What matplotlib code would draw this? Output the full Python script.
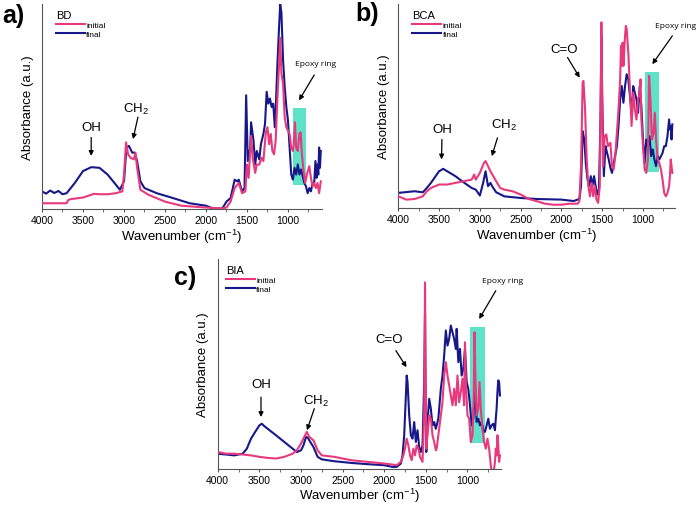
import matplotlib
matplotlib.use('Agg')
import matplotlib.pyplot as plt
from matplotlib.patches import Rectangle
from matplotlib.ticker import MultipleLocator

plt.rcParams['font.family'] = ['Liberation Sans', 'DejaVu Sans']
plt.rcParams['mathtext.fontset'] = 'custom'
plt.rcParams['mathtext.rm'] = 'Liberation Sans'
plt.rcParams['mathtext.it'] = 'Liberation Sans:italic'
plt.rcParams['mathtext.default'] = 'regular'

PINK = '#e8397d'
NAVY = '#16188a'
TEAL = '#5ee3c8'

# ---- panel a) BD ----
bd_final_wn = [4000, 3950, 3900, 3850, 3800, 3750, 3700, 3600, 3500, 3400, 3300, 3200, 3100, 3050, 3000,
               2970, 2940, 2900, 2870, 2840, 2800, 2750, 2600, 2400, 2200, 2000, 1900, 1800, 1750, 1700,
               1650, 1620, 1600, 1560, 1530, 1510, 1490, 1460, 1450, 1420, 1400, 1380, 1350, 1330, 1300,
               1280, 1260, 1240, 1220, 1200, 1180, 1160, 1150, 1130, 1110, 1095, 1080, 1060, 1040, 1020,
               1000, 980, 960, 940, 920, 900, 880, 860, 840, 820, 800, 780, 760, 740, 720,
               700, 680, 665, 650, 640, 630, 620, 610, 600]
bd_final = [8.6, 7.5, 9.0, 7.8, 8.8, 7.2, 7.7, 12.7, 18.5, 20.4, 20.1, 16.8, 11.9, 9.4, 13.5,
            30.0, 30.8, 27.5, 27.5, 23.4, 13.5, 10.2, 7.7, 5.3, 2.8, 1.6, 0.0, 0.3, 3.6, 5.3,
            14.3, 13.5, 14.3, 8.6, 10.2, 55.5, 23.4, 30.0, 42.3, 33.3, 21.7, 28.3, 24.2, 31.6, 36.6,
            41.5, 57.2, 51.4, 53.9, 49.8, 51.4, 39.9, 48.1, 69.5, 87.6, 100.0, 95.9, 72.8, 59.6, 49.8,
            43.2, 30.0, 16.8, 14.3, 20.1, 16.8, 21.7, 16.8, 19.3, 16.0, 12.7, 11.0, 7.7, 10.2, 8.6,
            12.7, 12.7, 23.4, 15.2, 21.7, 16.8, 30.0, 20.1, 28.3]

bd_init_wn = [4000, 3700, 3680, 3650, 3500, 3400, 3370, 3300, 3200, 3100, 3020, 3000, 2975, 2950, 2920,
              2880, 2860, 2840, 2800, 2700, 2500, 2300, 2000, 1800, 1750, 1700, 1650, 1600, 1560, 1520,
              1500, 1480, 1450, 1430, 1400, 1380, 1350, 1320, 1300, 1270, 1250, 1230, 1210, 1190, 1170,
              1150, 1130, 1110, 1095, 1080, 1060, 1040, 1020, 1000, 980, 960, 940, 930, 915, 900,
              880, 860, 845, 830, 810, 790, 770, 740, 720, 700, 680, 660, 640, 620, 600]
bd_init = [2.8, 2.8, 4.4, 4.8, 5.6, 6.9, 7.4, 7.2, 7.2, 7.7, 8.6, 16.8, 32.5, 26.7, 25.0,
           24.2, 27.5, 20.1, 9.4, 6.9, 3.6, 1.6, 0.7, 0.3, 0.7, 3.6, 10.2, 12.7, 7.7, 8.6,
           21.7, 15.2, 35.7, 25.0, 17.6, 21.7, 21.7, 25.0, 23.4, 37.4, 39.9, 31.6, 36.6, 28.3, 26.7,
           33.3, 53.0, 69.5, 83.5, 66.2, 61.3, 44.8, 39.9, 38.2, 36.6, 30.0, 28.3, 31.6, 42.3, 30.0,
           28.3, 36.6, 37.4, 26.7, 18.5, 12.7, 16.8, 20.9, 15.2, 11.0, 12.7, 10.2, 12.7, 7.7, 13.5]

# ---- panel b) BCA ----
bca_final_wn = [4000, 3800, 3700, 3650, 3600, 3500, 3450, 3400, 3300, 3200, 3100, 3050, 3000, 2960, 2930,
                2900, 2870, 2850, 2800, 2700, 2500, 2300, 2000, 1850, 1780, 1760, 1740, 1720, 1700, 1680,
                1660, 1640, 1620, 1600, 1580, 1560, 1540, 1520, 1510, 1500, 1480, 1460, 1440, 1420, 1400,
                1380, 1350, 1320, 1300, 1280, 1260, 1240, 1220, 1200, 1180, 1160, 1140, 1120, 1100, 1080,
                1060, 1040, 1020, 1000, 980, 960, 940, 920, 900, 880, 860, 840, 820, 800, 780,
                760, 740, 720, 700, 680, 670, 660, 650, 640]
bca_final = [7.4, 8.2, 7.7, 9.8, 12.3, 18.0, 19.2, 18.0, 15.6, 12.6, 9.8, 9.0, 6.1, 12.3, 18.0,
             10.7, 12.3, 10.7, 7.7, 5.7, 4.9, 4.4, 4.1, 3.4, 4.4, 10.7, 37.7, 33.6, 21.3, 13.9,
             10.7, 15.6, 10.7, 15.6, 10.7, 6.6, 9.0, 45.1, 84.4, 53.3, 15.6, 30.3, 27.0, 23.8, 19.7,
             17.2, 23.8, 30.3, 40.2, 53.3, 59.8, 51.6, 59.8, 65.6, 63.1, 54.9, 46.7, 59.8, 56.6, 53.3,
             46.7, 59.8, 50.0, 33.6, 22.1, 33.6, 30.3, 35.2, 25.4, 28.7, 23.8, 20.5, 25.4, 23.8, 25.4,
             27.0, 30.3, 30.3, 35.2, 43.4, 38.5, 40.2, 33.6, 41.0]

bca_init_wn = [4000, 3900, 3800, 3700, 3650, 3600, 3500, 3400, 3300, 3200, 3100, 3070, 3050, 3000, 2950,
               2930, 2900, 2870, 2800, 2750, 2700, 2600, 2500, 2400, 2300, 2200, 2100, 2000, 1900, 1800,
               1780, 1760, 1740, 1730, 1710, 1690, 1670, 1650, 1630, 1610, 1590, 1570, 1550, 1530, 1515,
               1510, 1505, 1490, 1470, 1450, 1430, 1400, 1380, 1360, 1340, 1320, 1300, 1280, 1270, 1260,
               1250, 1240, 1220, 1210, 1200, 1180, 1160, 1140, 1120, 1100, 1080, 1060, 1040, 1030, 1020,
               1000, 980, 960, 940, 925, 910, 890, 870, 855, 840, 820, 800, 780, 760, 740,
               720, 700, 680, 670, 660, 650, 640]
bca_init = [5.7, 4.1, 4.4, 5.7, 8.2, 9.8, 11.5, 11.5, 12.3, 13.1, 13.9, 16.4, 13.9, 17.2, 22.1,
            23.0, 20.5, 18.0, 13.1, 9.8, 9.0, 8.2, 6.6, 4.4, 3.3, 2.1, 1.6, 1.6, 2.1, 2.1,
            3.3, 20.5, 61.5, 62.3, 48.4, 23.8, 10.7, 5.7, 12.3, 5.7, 10.7, 4.1, 2.5, 10.7, 69.7,
            91.0, 69.7, 20.5, 35.2, 36.1, 30.3, 32.0, 20.5, 18.9, 25.4, 36.9, 48.4, 63.1, 79.5, 69.7,
            81.1, 69.7, 84.4, 89.3, 87.7, 76.2, 58.2, 40.2, 56.6, 48.4, 43.4, 53.3, 56.6, 63.1, 43.4,
            30.3, 18.9, 17.2, 23.8, 64.8, 53.3, 33.6, 36.9, 46.7, 33.6, 23.8, 22.1, 18.9, 13.9, 7.4,
            5.7, 7.4, 10.7, 15.6, 23.8, 20.5, 17.2]

# ---- panel c) BIA ----
bia_final_wn = [4000, 3900, 3800, 3700, 3650, 3600, 3550, 3500, 3470, 3450, 3400, 3300, 3200, 3100, 3050,
                3000, 2970, 2940, 2920, 2900, 2850, 2800, 2750, 2600, 2400, 2200, 2000, 1900, 1850, 1800,
                1780, 1760, 1740, 1730, 1720, 1700, 1680, 1660, 1640, 1620, 1600, 1580, 1560, 1540, 1520,
                1510, 1505, 1495, 1480, 1460, 1440, 1420, 1400, 1380, 1350, 1320, 1300, 1280, 1260, 1240,
                1220, 1200, 1180, 1160, 1140, 1130, 1110, 1090, 1070, 1050, 1030, 1010, 990, 970, 950,
                930, 910, 890, 870, 850, 830, 810, 790, 770, 750, 730, 710, 690, 670, 660,
                650, 640, 630, 620, 610]
bia_final = [7.1, 6.7, 6.3, 7.1, 9.5, 14.3, 17.5, 20.6, 21.4, 20.6, 19.0, 15.9, 12.7, 9.5, 7.9,
             8.7, 11.1, 15.1, 14.8, 13.5, 10.3, 5.6, 4.4, 3.5, 2.7, 2.1, 1.6, 0.8, 0.8, 2.4,
             6.3, 15.9, 34.9, 44.4, 41.3, 25.4, 15.9, 14.3, 22.2, 12.7, 18.3, 10.3, 7.9, 11.1, 41.3,
             73.8, 41.3, 7.9, 22.2, 33.3, 28.6, 20.6, 22.2, 19.0, 23.8, 38.1, 44.4, 54.0, 65.9, 58.7,
             61.9, 68.3, 65.1, 61.9, 57.1, 66.7, 50.8, 57.1, 44.4, 47.6, 57.1, 41.3, 38.1, 30.2, 20.6,
             23.8, 38.1, 22.2, 23.8, 20.6, 22.2, 18.3, 17.5, 20.6, 23.8, 19.0, 20.6, 21.4, 18.3, 23.8,
             28.6, 36.5, 42.1, 41.3, 34.9]

bia_init_wn = [4000, 3900, 3800, 3700, 3600, 3500, 3400, 3300, 3200, 3100, 3050, 3000, 2950, 2930, 2900,
               2850, 2800, 2750, 2600, 2400, 2200, 2000, 1900, 1850, 1800, 1770, 1750, 1730, 1710, 1690,
               1670, 1650, 1630, 1610, 1590, 1570, 1540, 1520, 1510, 1505, 1495, 1480, 1460, 1440, 1420,
               1400, 1380, 1370, 1350, 1320, 1300, 1280, 1260, 1240, 1220, 1200, 1180, 1160, 1140, 1120,
               1100, 1080, 1060, 1040, 1030, 1020, 1000, 980, 960, 940, 925, 915, 905, 890, 870,
               855, 840, 820, 800, 780, 760, 740, 720, 710, 690, 670, 660, 650, 640, 630,
               620, 610]
bia_init = [7.9, 7.1, 7.1, 6.7, 6.3, 5.6, 5.1, 4.8, 5.6, 7.1, 8.7, 11.9, 15.9, 17.5, 15.1,
            13.5, 8.7, 6.3, 5.6, 4.0, 3.2, 2.4, 1.9, 1.6, 3.2, 6.3, 9.5, 14.3, 11.1, 6.3,
            4.0, 9.5, 6.3, 11.1, 9.5, 5.6, 3.2, 25.4, 88.9, 57.1, 9.5, 15.9, 25.4, 23.8, 15.9,
            12.7, 8.7, 9.5, 15.9, 25.4, 31.7, 44.4, 50.8, 44.4, 39.7, 34.9, 30.2, 38.1, 30.2, 44.4,
            31.7, 36.5, 42.9, 30.2, 60.3, 41.3, 25.4, 23.8, 12.7, 15.9, 33.3, 65.1, 44.4, 25.4, 28.6,
            41.3, 28.6, 19.0, 12.7, 9.5, 14.3, 9.5, 1.6, -1.6, -3.2, 3.2, 9.5, 6.3, 15.9, 11.1,
            3.2, 6.3]


def draw_panel(ax, name, final_wn, final, init_wn, init, xright, box, notes, leg_x):
    ax.add_patch(Rectangle((box[0], box[2]), box[1] - box[0], box[3] - box[2],
                           facecolor=TEAL, edgecolor='none', zorder=1))
    ax.plot(final_wn, final, color=NAVY, lw=1.5, zorder=2, label='final')
    ax.plot(init_wn, init, color=PINK, lw=1.5, zorder=3, label='initial')
    ax.set_xlim(4000, xright)
    ax.set_ylim(0, 100)
    ax.spines['top'].set_visible(False)
    ax.spines['right'].set_visible(False)
    ax.spines['left'].set_color('#555555')
    ax.spines['bottom'].set_color('#555555')
    ax.set_yticks([])
    ax.xaxis.set_major_locator(MultipleLocator(500))
    ax.xaxis.set_minor_locator(MultipleLocator(250))
    ax.tick_params(axis='x', which='both', direction='out', length=2.5, color='#555555',
                   labelsize=7.5, pad=2)
    ax.set_xlabel('Wavenumber (cm$^{-1}$)', fontsize=9.5, labelpad=1)
    ax.set_ylabel('Absorbance (a.u.)', fontsize=9.5, labelpad=6)

    handles, labels = ax.get_legend_handles_labels()
    leg = ax.legend(handles[::-1], labels[::-1], title=name, loc='upper left',
                    bbox_to_anchor=(leg_x, 1.0), frameon=False, fontsize=6,
                    title_fontsize=8, handlelength=3.4, handletextpad=0.2,
                    labelspacing=0.15, borderpad=0.2)
    leg._legend_box.align = 'left'

    arrow = dict(arrowstyle='-|>', color='black', lw=0.9, mutation_scale=7,
                 shrinkA=0, shrinkB=0)
    for label, tx, ty, ax0, ay0, ax1, ay1, fs in notes:
        ax.text(tx, ty, label, fontsize=fs, ha='center', va='center', clip_on=False,
                family=['Open Sans', 'DejaVu Sans'] if fs < 7 else None)
        ax.annotate('', xy=(ax1, ay1), xytext=(ax0, ay0), arrowprops=arrow,
                    annotation_clip=False)


fig = plt.figure(figsize=(7.0, 5.06), dpi=100)

ax_a = fig.add_axes([0.060, 0.585, 0.400, 0.405])
draw_panel(ax_a, 'BD', bd_final_wn, bd_final, bd_init_wn, bd_init, 585,
           (780, 943, 11.9, 49.4),
           [('OH', 3400, 39.9, 3400, 34.9, 3400, 25.9, 9.5),
            ('CH$_2$', 2850, 48.9, 2830, 44.8, 2890, 34.1, 9.5),
            ('Epoxy ring', 660, 71.2, 680, 65.4, 865, 53.0, 6)],
           0.03)

ax_b = fig.add_axes([0.569, 0.587, 0.395, 0.403])
draw_panel(ax_b, 'BCA', bca_final_wn, bca_final, bca_init_wn, bca_init, 610,
           (804, 975, 17.5, 66.7),
           [('OH', 3465, 38.5, 3465, 33.6, 3470, 23.8, 9.5),
            ('CH$_2$', 2700, 41.0, 2784, 34.4, 2853, 25.4, 9.5),
            ('C=O', 1967, 77.9, 1925, 73.8, 1776, 63.9, 9.5),
            ('Epoxy ring', 600, 89.3, 640, 84.4, 886, 70.5, 6)],
           0.03)

ax_c = fig.add_axes([0.311, 0.072, 0.405, 0.414])
draw_panel(ax_c, 'BIA', bia_final_wn, bia_final, bia_init_wn, bia_init, 595,
           (792, 968, 12.2, 67.5),
           [('OH', 3480, 40.5, 3480, 34.1, 3480, 24.6, 9.5),
            ('CH$_2$', 2820, 32.5, 2840, 28.6, 2928, 18.3, 9.5),
            ('C=O', 1940, 61.9, 1860, 56.3, 1732, 48.4, 9.5),
            ('Epoxy ring', 580, 89.7, 660, 84.9, 860, 71.4, 6)],
           0.01)

fig.text(0.003, 0.968, 'a)', fontsize=18, fontweight='bold', ha='left', va='center')
fig.text(0.508, 0.973, 'b)', fontsize=18, fontweight='bold', ha='left', va='center')
fig.text(0.248, 0.450, 'c)', fontsize=18, fontweight='bold', ha='left', va='center')

fig.savefig('out.png', dpi=100)
